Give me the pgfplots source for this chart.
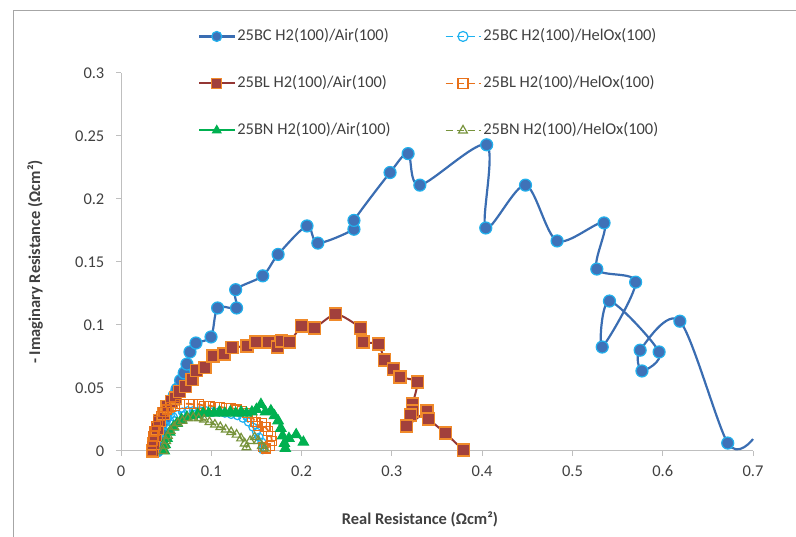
\documentclass[border=0pt]{standalone}
\usepackage{pgfplots}
\pgfplotsset{compat=1.18}
\usepackage{fontspec}
\setmainfont{Carlito}
\definecolor{bcline}{HTML}{3A6DB2}
\definecolor{bcfill}{HTML}{3F72B8}
\definecolor{bcedge}{HTML}{22B0EC}
\definecolor{blline}{HTML}{943634}
\definecolor{blfill}{HTML}{A2403C}
\definecolor{bledge}{HTML}{F08A2A}
\definecolor{bnair}{HTML}{00B050}
\definecolor{bchel}{HTML}{1DB1F0}
\definecolor{blhel}{HTML}{E8711A}
\definecolor{bnhel}{HTML}{77933C}
\definecolor{axgray}{HTML}{BFBFBF}
\definecolor{txt}{HTML}{404040}
\begin{document}
\fontsize{16.5}{20}\selectfont
\begin{tikzpicture}[x=1bp,y=1bp]
\useasboundingbox (0,0) rectangle (796,537);
\draw[gray!70, line width=0.8bp] (13,0) -- (13,527) -- (796,527);
\begin{axis}[
  at={(121bp,86bp)}, anchor=south west,
  scale only axis, width=632bp, height=378bp,
  xmin=0, xmax=0.7, ymin=0, ymax=0.3,
  clip=false,
  xtick={0,0.1,0.2,0.3,0.4,0.5,0.6,0.7},
  xticklabels={0,0.1,0.2,0.3,0.4,0.5,0.6,0.7},
  ytick={0,0.05,0.1,0.15,0.2,0.25,0.3},
  yticklabels={0,0.05,0.1,0.15,0.2,0.25,0.3},
  axis x line=bottom, axis y line=left,
  axis line style={axgray, line width=1bp, -},
  tick style={axgray, line width=1bp},
  tick align=outside, major tick length=5bp,
  /pgf/number format/assume math mode=true,
  ticklabel style={font=\fontsize{16.5}{20}\selectfont, text=txt},
  yticklabel style={xshift=-6bp},
  xticklabel style={yshift=-4bp},
  xlabel={Real Resistance (Ωcm²)},
  ylabel={- Imaginary Resistance (Ωcm²)},
  xlabel style={font=\fontsize{16.5}{20}\selectfont\bfseries, text=txt, at={(axis description cs:0.473,-0.18)}, anchor=center},
  ylabel style={font=\fontsize{16.5}{20}\selectfont\bfseries, text=txt, at={(axis description cs:-0.136,0.5)}, anchor=center, rotate=0},
  legend columns=2,
  legend cell align=left,
  legend image code/.code={\draw[mark repeat=2,mark phase=2,#1] plot coordinates {(0bp,0bp) (17.5bp,0bp) (35bp,0bp)};},
  legend image post style={mark indices={2}, mark size=5bp},
  legend style={draw=none, fill=none, at={(0.1218,1.123)}, anchor=north west,
    font=\fontsize{16.5}{20}\selectfont, text=txt, inner sep=0pt,
    nodes={inner sep=2bp, text height=12bp, text depth=3.5bp, xshift=-5bp},
    row sep=27.5bp,
    /tikz/every even column/.append style={column sep=52bp}},
]
% 25BC H2(100)/Air(100)
\addplot[color=bcline, line width=2.2bp, smooth, tension=0.5, mark=*, mark size=6bp,
  mark options={fill=bcfill, draw=bcedge, line width=1.2bp, solid}, mark indices={1,...,40}]
coordinates {
(0.040,0.000) (0.042,0.008) (0.045,0.016) (0.048,0.024) (0.051,0.031) (0.055,0.038)
(0.059,0.044) (0.062,0.049) (0.066,0.056) (0.070,0.062) (0.073,0.069) (0.0764,0.0786)
(0.083,0.0857) (0.0997,0.0905) (0.107,0.1135) (0.128,0.1135) (0.127,0.128) (0.157,0.139)
(0.174,0.156) (0.206,0.1786) (0.218,0.165) (0.258,0.176) (0.258,0.183) (0.298,0.221)
(0.318,0.236) (0.331,0.211) (0.405,0.243) (0.404,0.177) (0.448,0.211) (0.483,0.1667)
(0.535,0.181) (0.527,0.1444) (0.570,0.134) (0.533,0.0825) (0.541,0.119) (0.596,0.0786)
(0.577,0.0635) (0.575,0.080) (0.619,0.103) (0.672,0.0063) (0.700,0.0095)
};
\addlegendentry{25BC H2(100)/Air(100)}
% 25BC H2(100)/HelOx(100)
\addplot[color=bchel, line width=1.8bp, dash pattern=on 7bp off 4bp, smooth, mark=o, mark size=4bp,
  mark options={fill=white, draw=bchel, line width=1.2bp, solid}]
coordinates {
(0.042,0.000) (0.043,0.005) (0.045,0.010) (0.047,0.015) (0.050,0.020) (0.054,0.024)
(0.058,0.027) (0.063,0.029) (0.068,0.031) (0.074,0.032) (0.080,0.032) (0.087,0.032)
(0.094,0.032) (0.101,0.031) (0.108,0.031) (0.115,0.030) (0.122,0.029) (0.129,0.028)
(0.135,0.026) (0.141,0.023) (0.146,0.019) (0.150,0.015) (0.153,0.011) (0.156,0.007)
(0.158,0.003) (0.157,0.001)
};
\addlegendentry{25BC H2(100)/HelOx(100)}
% 25BL H2(100)/Air(100)
\addplot[color=blline, line width=2bp, smooth, tension=0.4, mark=square*, mark size=6bp,
  mark options={fill=blfill, draw=bledge, line width=1.2bp, solid}]
coordinates {
(0.035,0.000) (0.036,0.006) (0.038,0.012) (0.040,0.018) (0.043,0.024) (0.047,0.030)
(0.051,0.035) (0.056,0.039) (0.060,0.042) (0.065,0.047) (0.071,0.051) (0.0786,0.057)
(0.084,0.064) (0.093,0.066) (0.102,0.0754) (0.114,0.077) (0.123,0.082) (0.1395,0.0833)
(0.1495,0.0865) (0.163,0.0865) (0.173,0.0825) (0.178,0.0873) (0.187,0.0865) (0.200,0.0992)
(0.214,0.0976) (0.238,0.1087) (0.265,0.0976) (0.268,0.0865) (0.285,0.0849) (0.292,0.0722)
(0.302,0.065) (0.309,0.0587) (0.328,0.0548) (0.323,0.0373) (0.323,0.0317) (0.321,0.0286)
(0.316,0.0198) (0.339,0.0317) (0.341,0.0254) (0.359,0.0143) (0.379,0.0008)
};
\addlegendentry{25BL H2(100)/Air(100)}
% 25BL H2(100)/HelOx(100)
\addplot[color=blhel, line width=1.8bp, dash pattern=on 7bp off 4bp, smooth, mark=square, mark size=4.5bp,
  mark options={fill=white, draw=blhel, line width=1.2bp, solid}]
coordinates {
(0.034,0.000) (0.034,0.004) (0.035,0.008) (0.036,0.012) (0.037,0.016) (0.039,0.020)
(0.041,0.024) (0.044,0.028) (0.047,0.031) (0.051,0.033) (0.055,0.035) (0.060,0.036)
(0.065,0.037) (0.070,0.0375) (0.075,0.0375) (0.080,0.037) (0.086,0.037) (0.092,0.036)
(0.098,0.036) (0.104,0.035) (0.110,0.035) (0.116,0.034) (0.122,0.034) (0.128,0.033)
(0.134,0.032) (0.140,0.030) (0.145,0.027) (0.149,0.023) (0.152,0.020) (0.156,0.022)
(0.160,0.019) (0.163,0.016) (0.166,0.012) (0.167,0.008) (0.165,0.004) (0.161,0.002)
(0.157,0.003)
};
\addlegendentry{25BL H2(100)/HelOx(100)}
% 25BN H2(100)/Air(100)
\addplot[color=bnair, line width=2bp, smooth, mark=triangle*, mark size=6bp,
  mark options={fill=bnair, draw=bnair, line width=1bp, solid}]
coordinates {
(0.048,0.000) (0.049,0.005) (0.051,0.010) (0.054,0.015) (0.058,0.019) (0.062,0.022)
(0.067,0.025) (0.073,0.027) (0.079,0.028) (0.085,0.029) (0.091,0.030) (0.097,0.030)
(0.103,0.030) (0.109,0.031) (0.115,0.030) (0.121,0.031) (0.127,0.030) (0.133,0.031)
(0.139,0.030) (0.145,0.031) (0.150,0.033) (0.155,0.037) (0.160,0.031) (0.166,0.032)
(0.170,0.028) (0.174,0.024) (0.177,0.018) (0.179,0.012) (0.181,0.006) (0.182,0.002)
(0.186,0.010) (0.194,0.013) (0.202,0.007)
};
\addlegendentry{25BN H2(100)/Air(100)}
% 25BN H2(100)/HelOx(100)
\addplot[color=bnhel, line width=1.8bp, dash pattern=on 7bp off 4bp, smooth, mark=triangle, mark size=5bp,
  mark options={fill=white, draw=bnhel, line width=1.2bp, solid}]
coordinates {
(0.047,0.000) (0.048,0.004) (0.050,0.008) (0.052,0.012) (0.055,0.016) (0.059,0.019)
(0.063,0.022) (0.068,0.024) (0.074,0.026) (0.080,0.0265) (0.086,0.026) (0.092,0.025)
(0.098,0.023) (0.104,0.021) (0.110,0.019) (0.116,0.017) (0.122,0.015) (0.128,0.013)
(0.133,0.010) (0.137,0.006) (0.139,0.003) (0.143,0.008) (0.148,0.011) (0.152,0.008)
(0.156,0.004) (0.159,0.002)
};
\addlegendentry{25BN H2(100)/HelOx(100)}
\end{axis}
\end{tikzpicture}
\end{document}
